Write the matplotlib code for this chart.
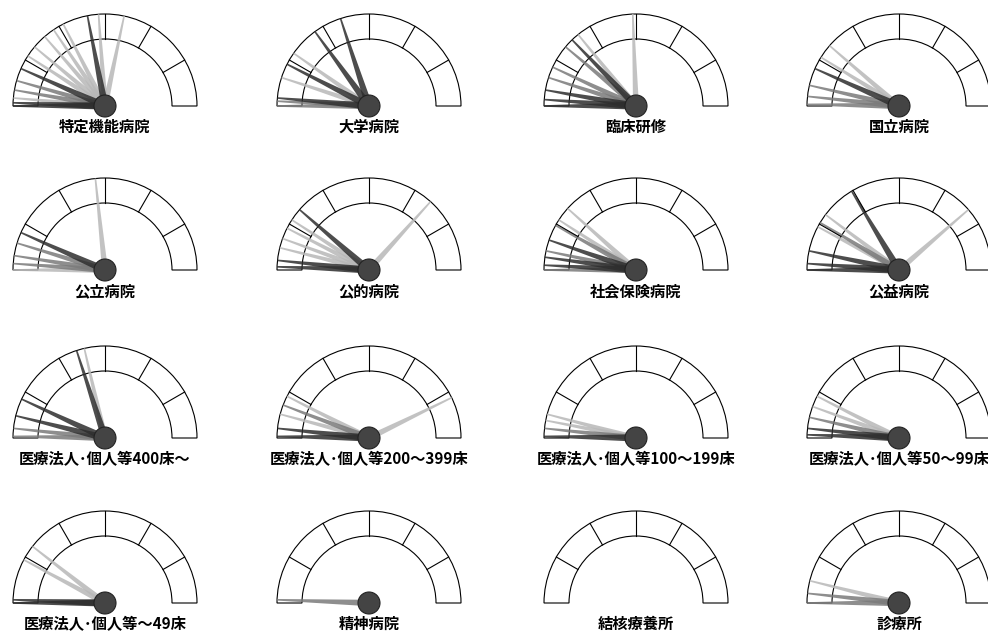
import numpy as np
import matplotlib.pyplot as plt
from matplotlib.patches import Wedge, Circle, Polygon

plt.rcParams['font.family'] = ['Noto Sans CJK JP', 'DejaVu Sans']

# 各メーターの名前
labels = ['特定機能病院', '大学病院', '臨床研修', '国立病院',
          '公立病院', '公的病院', '社会保険病院', '公益病院',
          '医療法人･個人等400床～', '医療法人･個人等200～399床',
          '医療法人･個人等100～199床', '医療法人･個人等50～99床',
          '医療法人･個人等～49床', '精神病院', '結核療養所', '診療所']

# 針の位置（目盛の左端からの角度, 0～180）
needle_pos = [
    [79, 86, 102, 63, 56, 49, 40, 33, 24, 16, 10, 5, 2, 0],
    [72, 54, 35, 27, 18, 5, 3, 0],
    [88, 46, 51, 40, 25, 18, 10, 4, 0],
    [41, 32, 24, 13, 6, 1],
    [84, 24, 17, 9, 4, 0],
    [41, 132, 33, 27, 20, 14, 6, 2, 0],
    [42, 33, 29, 19, 12, 8, 3, 0],
    [59, 139, 37, 31, 28, 12, 4, 0],
    [72, 77, 25, 14, 6, 1],
    [154, 27, 21, 15, 6, 1],
    [15, 11, 6, 1],
    [27, 20, 13, 6, 2],
    [38, 28, 2, 0],
    [2],
    [],
    [14, 6, 0],
]
needle_tone = [
    'dllllllldmmlddm',
    'ddldldmm',
    'ldlmmmddd',
    'lldmmm',
    'ldmmml',
    'dllllldd',
    'llmdmddm',
    'dllmlddd',
    'dlddmm',
    'llmldd',
    'llmd',
    'llmdd',
    'llddd',
    'm',
    '',
    'lmm',
]

col_x = [105, 369, 636, 899]
row_y = [106, 270, 438, 603]
R_out, R_in = 92, 67
tone_color = {'l': '#b8b8b8', 'm': '#7a7a7a', 'd': '#2e2e2e'}
tone_width = {'l': 3.0, 'm': 3.2, 'd': 3.6}

fig = plt.figure(figsize=(9.88, 6.33), dpi=100)
ax = fig.add_axes([0, 0, 1, 1])
ax.set_xlim(0, 988)
ax.set_ylim(0, 633)
ax.set_aspect('equal')
ax.axis('off')

for i, name in enumerate(labels):
    cx = col_x[i % 4]
    cy = 633 - row_y[i // 4]

    # 目盛の帯
    ax.add_patch(Wedge((cx, cy), R_out, 0, 180, width=R_out - R_in,
                       facecolor='white', edgecolor='black', linewidth=0.8))
    for k in range(1, 6):
        th = np.radians(180 - 30 * k)
        ax.plot([cx + R_in * np.cos(th), cx + R_out * np.cos(th)],
                [cy + R_in * np.sin(th), cy + R_out * np.sin(th)],
                color='black', linewidth=0.8)

    # 針（薄い色から順に描く）
    pos = needle_pos[i]
    tones = needle_tone[i]
    for t in 'lmd':
        for p, tt in zip(pos, tones):
            if tt != t:
                continue
            th = np.radians(180 - p)
            ux, uy = np.cos(th), np.sin(th)
            nx, ny = -uy, ux
            w0 = tone_width[t]
            w1 = 0.8
            pts = [(cx + w0 * nx, cy + w0 * ny),
                   (cx + R_out * ux + w1 * nx, cy + R_out * uy + w1 * ny),
                   (cx + R_out * ux - w1 * nx, cy + R_out * uy - w1 * ny),
                   (cx - w0 * nx, cy - w0 * ny)]
            ax.add_patch(Polygon(pts, closed=True, facecolor=tone_color[t],
                                 edgecolor='none', alpha=0.85))

    if len(pos) > 0:
        ax.add_patch(Circle((cx, cy), 11, facecolor='#444444',
                            edgecolor='#222222', linewidth=0.8, zorder=5))

    ax.text(cx, cy - 21, name, ha='center', va='center', fontsize=11,
            fontweight='bold', zorder=6)

plt.savefig('out.png', dpi=100)
